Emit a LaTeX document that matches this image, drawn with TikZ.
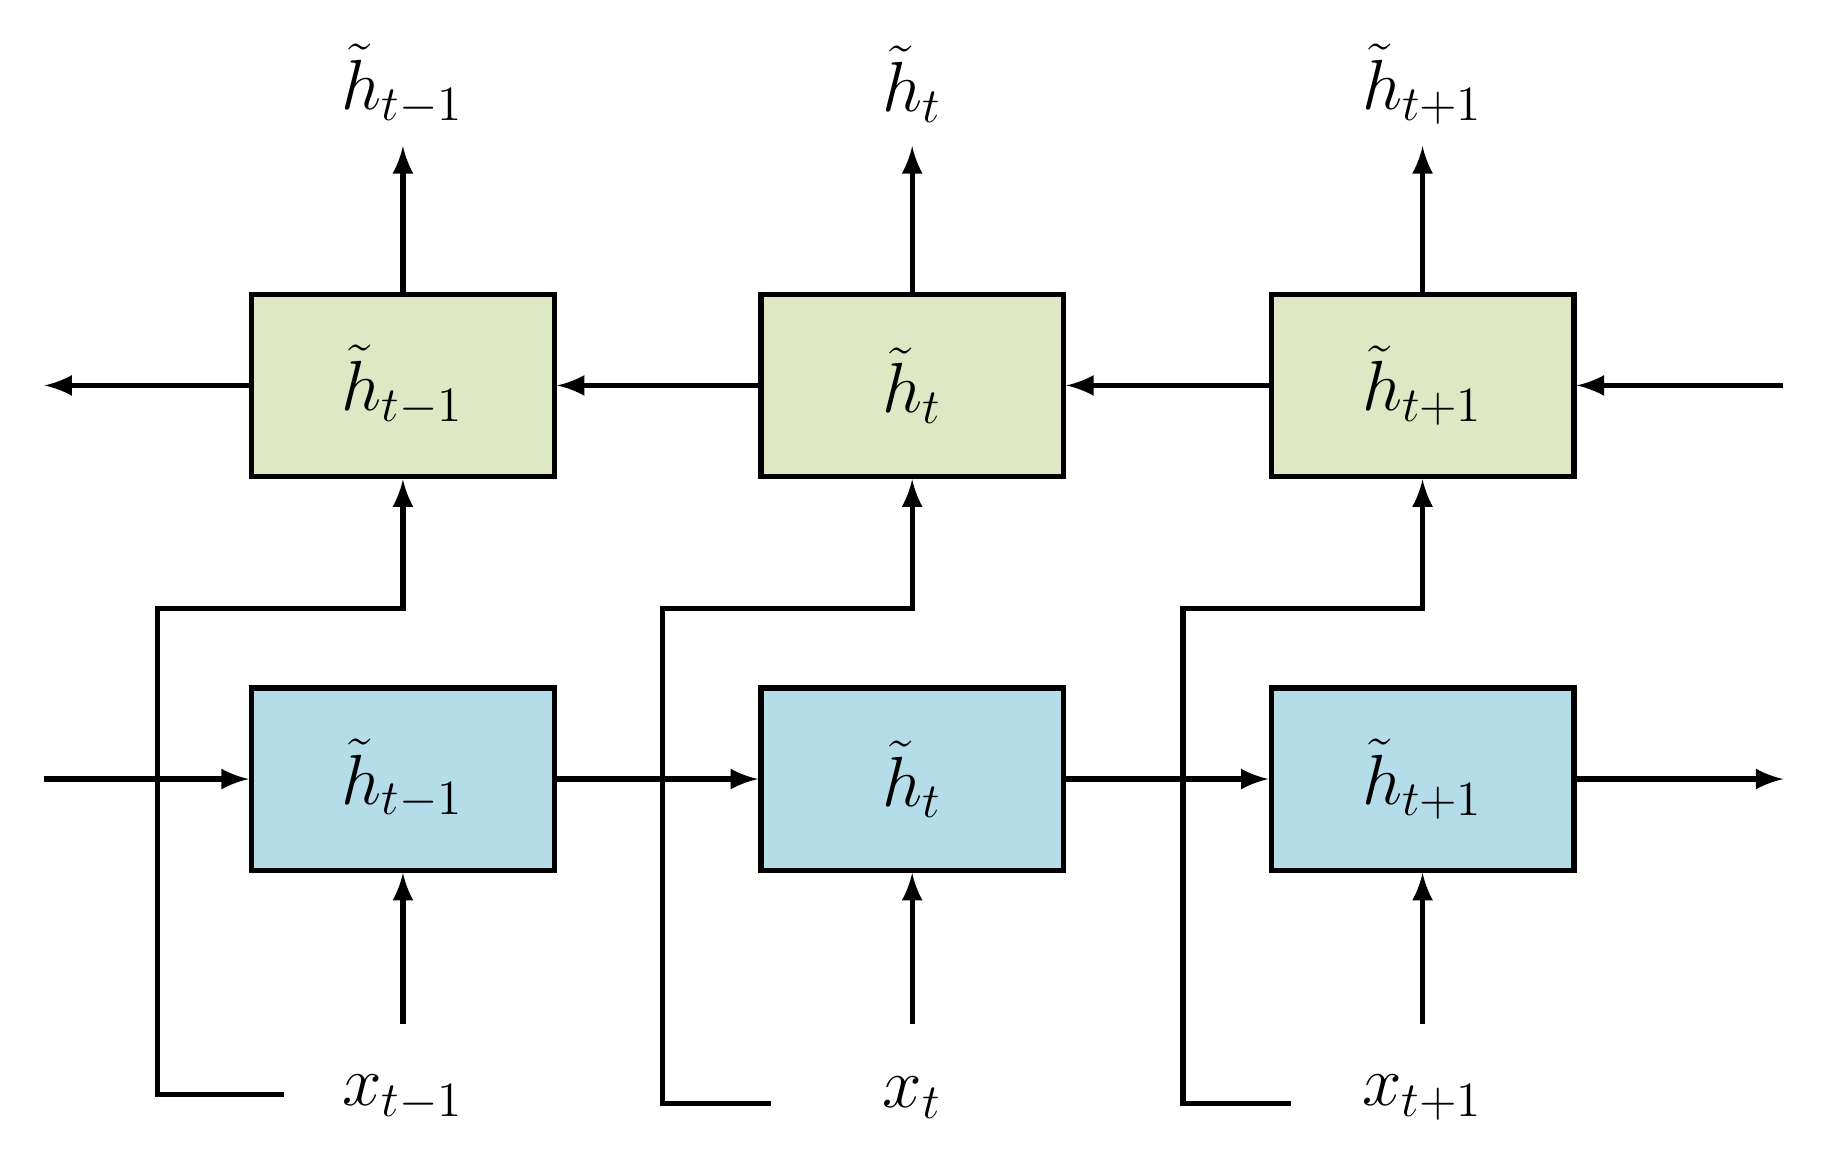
\documentclass[tikz,border=0pt]{standalone}
\usepackage{amsmath}
\usetikzlibrary{positioning}
\definecolor{bwdgreen}{HTML}{DEE8C5}
\definecolor{fwdblue}{HTML}{B5DDE9}
\tikzstyle{cell}=[draw,line width=1.3pt,minimum width=2.59cm,minimum height=1.56cm,inner sep=0pt,font=\fontsize{18}{22}\selectfont]
\tikzstyle{lbl}=[inner sep=1pt,font=\fontsize{18}{22}\selectfont]
\tikzstyle{wire}=[line width=1.3pt,-latex]

\begin{document}
\begin{tikzpicture}[x=0.01cm,y=-0.01cm,>=latex]
    \useasboundingbox (0,0) rectangle (1560,990);
    \foreach \n/\xc/\sub/\xl/\xv/\yb in {a/345/{t-1}/243/135/937, b/781/{t}/660/567/945, c/1218/{t+1}/1105/1013/945} {
        \node[cell,fill=bwdgreen] (b\n) at (\xc,330) {$\tilde{h}_{\sub}$};
        \node[cell,fill=fwdblue] (f\n) at (\xc,667) {$\tilde{h}_{\sub}$};
        \node[lbl] (out\n) at (\xc,72) {$\tilde{h}_{\sub}$};
        \node[lbl] (in\n) at (\xc,940) {$x_{\sub}$};
        \coordinate (ot\n) at (\xc,125);
        \coordinate (it\n) at (\xc,877);
        \draw[wire] (b\n.north) -- (ot\n);
        \draw[wire] (it\n) -- (f\n.south);
        \coordinate (e\n) at (\xl,\yb);
        \coordinate (k\n) at (\xv,521);
        \draw[wire] (e\n) -| (k\n) -| (b\n.south);
    }
    \coordinate (lw) at (38,330);
    \coordinate (re) at (1527,330);
    \coordinate (lf) at (38,667);
    \coordinate (rf) at (1527,667);
    \draw[wire] (re) -- (bc);
    \draw[wire] (bc) -- (bb);
    \draw[wire] (bb) -- (ba);
    \draw[wire] (ba) -- (lw);
    \draw[wire] (lf) -- (fa);
    \draw[wire] (fa) -- (fb);
    \draw[wire] (fb) -- (fc);
    \draw[wire] (fc) -- (rf);
\end{tikzpicture}
\end{document}
